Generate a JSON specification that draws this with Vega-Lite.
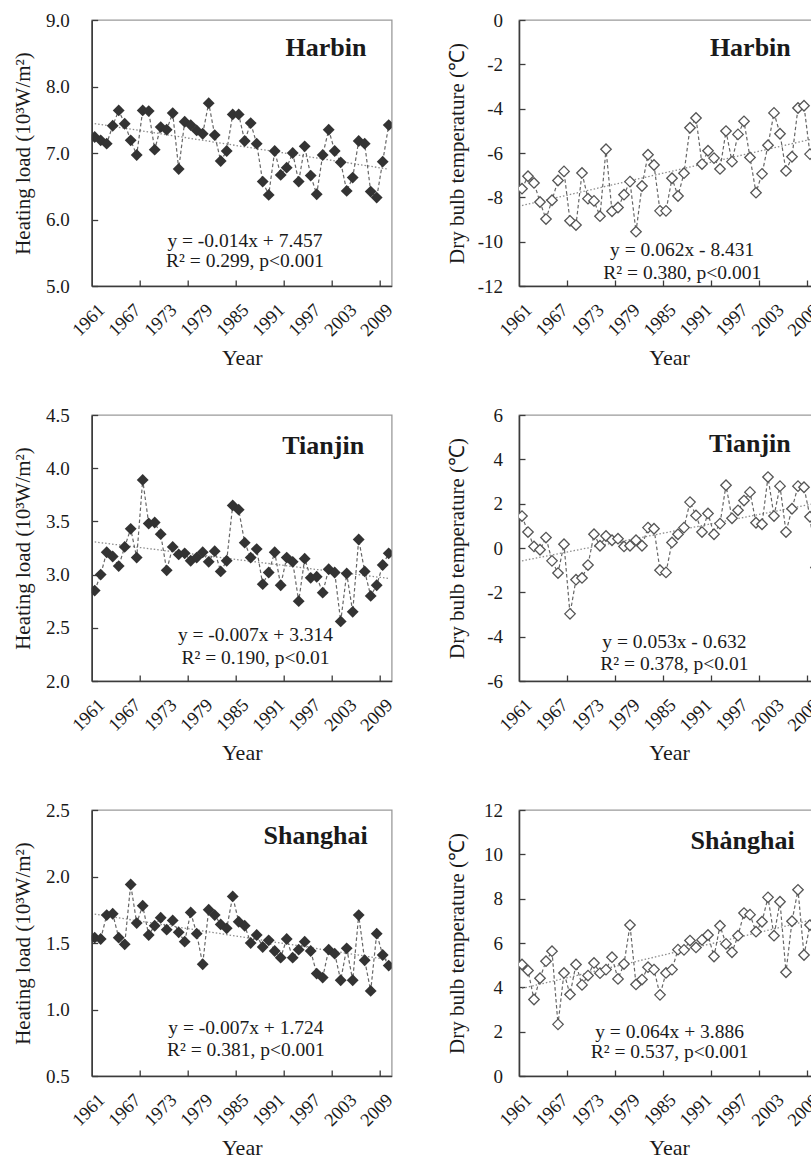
{
"$schema": "https://vega.github.io/schema/vega-lite/v6.json",
"autosize": {"type": "none"},
"padding": {"left": 91.7, "top": 20, "right": 719.3, "bottom": 1141},
"background": "white",
"columns": 2,
"spacing": {"row": 36, "column": 48.3},
"config": {
  "font": "Liberation Serif",
  "view": {"stroke": "#9a9a9a", "strokeWidth": 1.3},
  "axis": {"grid": false, "domainColor": "#3c3c3c", "domainWidth": 1.6, "tickColor": "#3c3c3c", "tickWidth": 1.3, "labelColor": "#1a1a1a", "titleColor": "#1a1a1a", "titleFontWeight": "normal", "labelFlush": false, "labelOverlap": false},
  "axisX": {"labelAngle": -45, "labelAlign": "right", "labelBaseline": "top", "labelPadding": 14, "labelFontSize": 18.5, "titleFontSize": 22, "titlePadding": 8, "ticks": false},
  "axisY": {"tickSize": -6, "labelPadding": 28.5, "labelFontSize": 19, "titleFontSize": 21}
},
"datasets": {
  "series": [
{"p":"HHL","year":1961,"v":7.24},{"p":"HHL","year":1962,"v":7.19},{"p":"HHL","year":1963,"v":7.14},{"p":"HHL","year":1964,"v":7.41},{"p":"HHL","year":1965,"v":7.64},{"p":"HHL","year":1966,"v":7.44},{"p":"HHL","year":1967,"v":7.19},{"p":"HHL","year":1968,"v":6.97},{"p":"HHL","year":1969,"v":7.64},{"p":"HHL","year":1970,"v":7.63},
{"p":"HHL","year":1971,"v":7.05},{"p":"HHL","year":1972,"v":7.39},{"p":"HHL","year":1973,"v":7.35},{"p":"HHL","year":1974,"v":7.60},{"p":"HHL","year":1975,"v":6.76},{"p":"HHL","year":1976,"v":7.47},{"p":"HHL","year":1977,"v":7.42},{"p":"HHL","year":1978,"v":7.34},{"p":"HHL","year":1979,"v":7.29},{"p":"HHL","year":1980,"v":7.75},
{"p":"HHL","year":1981,"v":7.27},{"p":"HHL","year":1982,"v":6.88},{"p":"HHL","year":1983,"v":7.03},{"p":"HHL","year":1984,"v":7.58},{"p":"HHL","year":1985,"v":7.58},{"p":"HHL","year":1986,"v":7.18},{"p":"HHL","year":1987,"v":7.45},{"p":"HHL","year":1988,"v":7.14},{"p":"HHL","year":1989,"v":6.57},{"p":"HHL","year":1990,"v":6.37},
{"p":"HHL","year":1991,"v":7.03},{"p":"HHL","year":1992,"v":6.67},{"p":"HHL","year":1993,"v":6.78},{"p":"HHL","year":1994,"v":7.00},{"p":"HHL","year":1995,"v":6.57},{"p":"HHL","year":1996,"v":7.10},{"p":"HHL","year":1997,"v":6.66},{"p":"HHL","year":1998,"v":6.38},{"p":"HHL","year":1999,"v":6.97},{"p":"HHL","year":2000,"v":7.35},
{"p":"HHL","year":2001,"v":7.03},{"p":"HHL","year":2002,"v":6.86},{"p":"HHL","year":2003,"v":6.43},{"p":"HHL","year":2004,"v":6.63},{"p":"HHL","year":2005,"v":7.18},{"p":"HHL","year":2006,"v":7.14},{"p":"HHL","year":2007,"v":6.42},{"p":"HHL","year":2008,"v":6.33},{"p":"HHL","year":2009,"v":6.87},{"p":"HHL","year":2010,"v":7.42},
{"p":"THL","year":1961,"v":2.85},{"p":"THL","year":1962,"v":3.00},{"p":"THL","year":1963,"v":3.21},{"p":"THL","year":1964,"v":3.17},{"p":"THL","year":1965,"v":3.08},{"p":"THL","year":1966,"v":3.26},{"p":"THL","year":1967,"v":3.43},{"p":"THL","year":1968,"v":3.16},{"p":"THL","year":1969,"v":3.89},{"p":"THL","year":1970,"v":3.48},
{"p":"THL","year":1971,"v":3.49},{"p":"THL","year":1972,"v":3.38},{"p":"THL","year":1973,"v":3.04},{"p":"THL","year":1974,"v":3.26},{"p":"THL","year":1975,"v":3.19},{"p":"THL","year":1976,"v":3.20},{"p":"THL","year":1977,"v":3.13},{"p":"THL","year":1978,"v":3.16},{"p":"THL","year":1979,"v":3.21},{"p":"THL","year":1980,"v":3.12},
{"p":"THL","year":1981,"v":3.22},{"p":"THL","year":1982,"v":3.03},{"p":"THL","year":1983,"v":3.13},{"p":"THL","year":1984,"v":3.65},{"p":"THL","year":1985,"v":3.61},{"p":"THL","year":1986,"v":3.30},{"p":"THL","year":1987,"v":3.16},{"p":"THL","year":1988,"v":3.24},{"p":"THL","year":1989,"v":2.91},{"p":"THL","year":1990,"v":3.02},
{"p":"THL","year":1991,"v":3.21},{"p":"THL","year":1992,"v":2.90},{"p":"THL","year":1993,"v":3.16},{"p":"THL","year":1994,"v":3.12},{"p":"THL","year":1995,"v":2.75},{"p":"THL","year":1996,"v":3.15},{"p":"THL","year":1997,"v":2.97},{"p":"THL","year":1998,"v":2.98},{"p":"THL","year":1999,"v":2.83},{"p":"THL","year":2000,"v":3.05},
{"p":"THL","year":2001,"v":3.02},{"p":"THL","year":2002,"v":2.56},{"p":"THL","year":2003,"v":3.01},{"p":"THL","year":2004,"v":2.65},{"p":"THL","year":2005,"v":3.33},{"p":"THL","year":2006,"v":3.03},{"p":"THL","year":2007,"v":2.80},{"p":"THL","year":2008,"v":2.90},{"p":"THL","year":2009,"v":3.09},{"p":"THL","year":2010,"v":3.20},
{"p":"SHL","year":1961,"v":1.54},{"p":"SHL","year":1962,"v":1.53},{"p":"SHL","year":1963,"v":1.71},{"p":"SHL","year":1964,"v":1.72},{"p":"SHL","year":1965,"v":1.54},{"p":"SHL","year":1966,"v":1.49},{"p":"SHL","year":1967,"v":1.94},{"p":"SHL","year":1968,"v":1.65},{"p":"SHL","year":1969,"v":1.78},{"p":"SHL","year":1970,"v":1.56},
{"p":"SHL","year":1971,"v":1.63},{"p":"SHL","year":1972,"v":1.69},{"p":"SHL","year":1973,"v":1.60},{"p":"SHL","year":1974,"v":1.67},{"p":"SHL","year":1975,"v":1.58},{"p":"SHL","year":1976,"v":1.51},{"p":"SHL","year":1977,"v":1.73},{"p":"SHL","year":1978,"v":1.57},{"p":"SHL","year":1979,"v":1.34},{"p":"SHL","year":1980,"v":1.75},
{"p":"SHL","year":1981,"v":1.71},{"p":"SHL","year":1982,"v":1.64},{"p":"SHL","year":1983,"v":1.61},{"p":"SHL","year":1984,"v":1.85},{"p":"SHL","year":1985,"v":1.66},{"p":"SHL","year":1986,"v":1.63},{"p":"SHL","year":1987,"v":1.50},{"p":"SHL","year":1988,"v":1.56},{"p":"SHL","year":1989,"v":1.47},{"p":"SHL","year":1990,"v":1.52},
{"p":"SHL","year":1991,"v":1.44},{"p":"SHL","year":1992,"v":1.39},{"p":"SHL","year":1993,"v":1.53},{"p":"SHL","year":1994,"v":1.39},{"p":"SHL","year":1995,"v":1.45},{"p":"SHL","year":1996,"v":1.51},{"p":"SHL","year":1997,"v":1.44},{"p":"SHL","year":1998,"v":1.27},{"p":"SHL","year":1999,"v":1.24},{"p":"SHL","year":2000,"v":1.45},
{"p":"SHL","year":2001,"v":1.42},{"p":"SHL","year":2002,"v":1.22},{"p":"SHL","year":2003,"v":1.46},{"p":"SHL","year":2004,"v":1.22},{"p":"SHL","year":2005,"v":1.71},{"p":"SHL","year":2006,"v":1.37},{"p":"SHL","year":2007,"v":1.14},{"p":"SHL","year":2008,"v":1.57},{"p":"SHL","year":2009,"v":1.41},{"p":"SHL","year":2010,"v":1.33},
{"p":"HTB","year":1961,"v":-7.61},{"p":"HTB","year":1962,"v":-7.05},{"p":"HTB","year":1963,"v":-7.35},{"p":"HTB","year":1964,"v":-8.21},{"p":"HTB","year":1965,"v":-8.98},{"p":"HTB","year":1966,"v":-8.13},{"p":"HTB","year":1967,"v":-7.24},{"p":"HTB","year":1968,"v":-6.83},{"p":"HTB","year":1969,"v":-9.06},{"p":"HTB","year":1970,"v":-9.25},
{"p":"HTB","year":1971,"v":-6.90},{"p":"HTB","year":1972,"v":-8.06},{"p":"HTB","year":1973,"v":-8.16},{"p":"HTB","year":1974,"v":-8.85},{"p":"HTB","year":1975,"v":-5.83},{"p":"HTB","year":1976,"v":-8.63},{"p":"HTB","year":1977,"v":-8.46},{"p":"HTB","year":1978,"v":-7.88},{"p":"HTB","year":1979,"v":-7.29},{"p":"HTB","year":1980,"v":-9.55},
{"p":"HTB","year":1981,"v":-7.49},{"p":"HTB","year":1982,"v":-6.08},{"p":"HTB","year":1983,"v":-6.54},{"p":"HTB","year":1984,"v":-8.61},{"p":"HTB","year":1985,"v":-8.61},{"p":"HTB","year":1986,"v":-7.14},{"p":"HTB","year":1987,"v":-7.94},{"p":"HTB","year":1988,"v":-6.91},{"p":"HTB","year":1989,"v":-4.86},{"p":"HTB","year":1990,"v":-4.42},
{"p":"HTB","year":1991,"v":-6.50},{"p":"HTB","year":1992,"v":-5.90},{"p":"HTB","year":1993,"v":-6.23},{"p":"HTB","year":1994,"v":-6.72},{"p":"HTB","year":1995,"v":-5.01},{"p":"HTB","year":1996,"v":-6.39},{"p":"HTB","year":1997,"v":-5.16},{"p":"HTB","year":1998,"v":-4.57},{"p":"HTB","year":1999,"v":-6.20},{"p":"HTB","year":2000,"v":-7.79},
{"p":"HTB","year":2001,"v":-6.94},{"p":"HTB","year":2002,"v":-5.65},{"p":"HTB","year":2003,"v":-4.19},{"p":"HTB","year":2004,"v":-5.13},{"p":"HTB","year":2005,"v":-6.81},{"p":"HTB","year":2006,"v":-6.17},{"p":"HTB","year":2007,"v":-3.97},{"p":"HTB","year":2008,"v":-3.87},{"p":"HTB","year":2009,"v":-6.05},
{"p":"TTB","year":1961,"v":1.44},{"p":"TTB","year":1962,"v":0.72},{"p":"TTB","year":1963,"v":0.07},{"p":"TTB","year":1964,"v":-0.08},{"p":"TTB","year":1965,"v":0.47},{"p":"TTB","year":1966,"v":-0.58},{"p":"TTB","year":1967,"v":-1.13},{"p":"TTB","year":1968,"v":0.17},{"p":"TTB","year":1969,"v":-2.97},{"p":"TTB","year":1970,"v":-1.43},
{"p":"TTB","year":1971,"v":-1.35},{"p":"TTB","year":1972,"v":-0.77},{"p":"TTB","year":1973,"v":0.62},{"p":"TTB","year":1974,"v":0.10},{"p":"TTB","year":1975,"v":0.54},{"p":"TTB","year":1976,"v":0.35},{"p":"TTB","year":1977,"v":0.42},{"p":"TTB","year":1978,"v":0.07},{"p":"TTB","year":1979,"v":0.10},{"p":"TTB","year":1980,"v":0.35},
{"p":"TTB","year":1981,"v":0.10},{"p":"TTB","year":1982,"v":0.92},{"p":"TTB","year":1983,"v":0.87},{"p":"TTB","year":1984,"v":-1.00},{"p":"TTB","year":1985,"v":-1.10},{"p":"TTB","year":1986,"v":0.25},{"p":"TTB","year":1987,"v":0.62},{"p":"TTB","year":1988,"v":0.92},{"p":"TTB","year":1989,"v":2.07},{"p":"TTB","year":1990,"v":1.47},
{"p":"TTB","year":1991,"v":0.72},{"p":"TTB","year":1992,"v":1.56},{"p":"TTB","year":1993,"v":0.62},{"p":"TTB","year":1994,"v":1.10},{"p":"TTB","year":1995,"v":2.83},{"p":"TTB","year":1996,"v":1.34},{"p":"TTB","year":1997,"v":1.70},{"p":"TTB","year":1998,"v":2.14},{"p":"TTB","year":1999,"v":2.52},{"p":"TTB","year":2000,"v":1.14},
{"p":"TTB","year":2001,"v":1.07},{"p":"TTB","year":2002,"v":3.20},{"p":"TTB","year":2003,"v":1.44},{"p":"TTB","year":2004,"v":2.79},{"p":"TTB","year":2005,"v":0.72},{"p":"TTB","year":2006,"v":1.77},{"p":"TTB","year":2007,"v":2.79},{"p":"TTB","year":2008,"v":2.74},{"p":"TTB","year":2009,"v":1.41},{"p":"TTB","year":2010,"v":-0.88},
{"p":"STB","year":1961,"v":5.03},{"p":"STB","year":1962,"v":4.76},{"p":"STB","year":1963,"v":3.45},{"p":"STB","year":1964,"v":4.41},{"p":"STB","year":1965,"v":5.18},{"p":"STB","year":1966,"v":5.63},{"p":"STB","year":1967,"v":2.33},{"p":"STB","year":1968,"v":4.65},{"p":"STB","year":1969,"v":3.68},{"p":"STB","year":1970,"v":5.03},
{"p":"STB","year":1971,"v":4.11},{"p":"STB","year":1972,"v":4.53},{"p":"STB","year":1973,"v":5.10},{"p":"STB","year":1974,"v":4.64},{"p":"STB","year":1975,"v":4.80},{"p":"STB","year":1976,"v":5.36},{"p":"STB","year":1977,"v":4.38},{"p":"STB","year":1978,"v":5.05},{"p":"STB","year":1979,"v":6.81},{"p":"STB","year":1980,"v":4.13},
{"p":"STB","year":1981,"v":4.35},{"p":"STB","year":1982,"v":4.91},{"p":"STB","year":1983,"v":4.80},{"p":"STB","year":1984,"v":3.66},{"p":"STB","year":1985,"v":4.65},{"p":"STB","year":1986,"v":4.80},{"p":"STB","year":1987,"v":5.70},{"p":"STB","year":1988,"v":5.69},{"p":"STB","year":1989,"v":6.11},{"p":"STB","year":1990,"v":5.80},
{"p":"STB","year":1991,"v":6.14},{"p":"STB","year":1992,"v":6.36},{"p":"STB","year":1993,"v":5.39},{"p":"STB","year":1994,"v":6.78},{"p":"STB","year":1995,"v":5.96},{"p":"STB","year":1996,"v":5.58},{"p":"STB","year":1997,"v":6.33},{"p":"STB","year":1998,"v":7.35},{"p":"STB","year":1999,"v":7.28},{"p":"STB","year":2000,"v":6.51},
{"p":"STB","year":2001,"v":6.96},{"p":"STB","year":2002,"v":8.06},{"p":"STB","year":2003,"v":6.33},{"p":"STB","year":2004,"v":7.86},{"p":"STB","year":2005,"v":4.68},{"p":"STB","year":2006,"v":6.98},{"p":"STB","year":2007,"v":8.40},{"p":"STB","year":2008,"v":5.46},{"p":"STB","year":2009,"v":6.81},{"p":"STB","year":2010,"v":7.00}
  ],
  "trend": [
{"p":"HHL","year":1961,"v":7.443},{"p":"HHL","year":2010,"v":6.757},
{"p":"THL","year":1961,"v":3.307},{"p":"THL","year":2010,"v":2.964},
{"p":"SHL","year":1961,"v":1.717},{"p":"SHL","year":2010,"v":1.374},
{"p":"HTB","year":1961,"v":-8.369},{"p":"HTB","year":2010,"v":-5.331},
{"p":"TTB","year":1961,"v":-0.579},{"p":"TTB","year":2010,"v":2.018},
{"p":"STB","year":1961,"v":3.950},{"p":"STB","year":2010,"v":7.086}
  ],
  "notes": [
{"p":"HHL","city":"Harbin","eq":"y = -0.014x + 7.457","r2":"R² = 0.299, p<0.001"},
{"p":"THL","city":"Tianjin","eq":"y = -0.007x + 3.314","r2":"R² = 0.190, p<0.01"},
{"p":"SHL","city":"Shanghai","eq":"y = -0.007x + 1.724","r2":"R² = 0.381, p<0.001"},
{"p":"HTB","city":"Harbin","eq":"y = 0.062x - 8.431","r2":"R² = 0.380, p<0.001"},
{"p":"TTB","city":"Tianjin","eq":"y = 0.053x - 0.632","r2":"R² = 0.378, p<0.01"},
{"p":"STB","city":"Shȧnghai","eq":"y = 0.064x + 3.886","r2":"R² = 0.537, p<0.001"}
  ]
},
"concat": [
{
  "width": 300, "height": 266,
  "resolve": {"axis": {"x": "independent"}},
  "layer": [
    {"data": {"name": "trend"}, "transform": [{"filter": "datum.p === 'HHL'"}],
     "mark": {"type": "line", "color": "#8c8c8c", "strokeWidth": 1.3, "strokeDash": [1.5, 2], "clip": true},
     "encoding": {
       "x": {"field": "year", "type": "quantitative", "scale": {"domain": [1960.5, 2010.5], "nice": false, "zero": false},
             "axis": {"orient": "bottom", "values": [1968.5, 1976.5, 1984.5, 1992.5, 2000.5, 2008.5], "labels": false, "domain": false, "ticks": true, "tickSize": -6, "title": null}},
       "y": {"field": "v", "type": "quantitative", "scale": {"domain": [5, 9], "nice": false, "zero": false},
             "axis": {"values": [5, 6, 7, 8, 9], "format": ".1f", "title": "Heating load (10³W/m²)", "minExtent": 47, "maxExtent": 47, "titlePadding": 11.4}}
     }},
    {"data": {"name": "series"}, "transform": [{"filter": "datum.p === 'HHL'"}],
     "mark": {"type": "line", "color": "#666666", "strokeWidth": 1.2, "strokeDash": [3.5, 2.5], "clip": true},
     "encoding": {
       "x": {"field": "year", "type": "quantitative", "axis": {"orient": "bottom", "values": [1961, 1967, 1973, 1979, 1985, 1991, 1997, 2003, 2009], "format": "d", "title": "Year"}},
       "y": {"field": "v", "type": "quantitative"}
     }},
    {"data": {"name": "series"}, "transform": [{"filter": "datum.p === 'HHL'"}],
     "mark": {"type": "point", "shape": "diamond", "filled": true, "size": 140, "color": "#333333", "opacity": 1, "clip": true},
     "encoding": {"x": {"field": "year", "type": "quantitative", "axis": null}, "y": {"field": "v", "type": "quantitative"}}},
    {"data": {"name": "notes"}, "transform": [{"filter": "datum.p === 'HHL'"}],
     "mark": {"type": "text", "align": "right", "baseline": "alphabetic", "fontSize": 26, "fontWeight": "bold", "color": "#1a1a1a"},
     "encoding": {"x": {"datum": 2006.3, "type": "quantitative", "axis": null}, "y": {"datum": 8.46, "type": "quantitative"}, "text": {"field": "city"}}},
    {"data": {"name": "notes"}, "transform": [{"filter": "datum.p === 'HHL'"}],
     "mark": {"type": "text", "align": "center", "baseline": "alphabetic", "fontSize": 19.5, "color": "#1a1a1a"},
     "encoding": {"x": {"datum": 1986.05, "type": "quantitative", "axis": null}, "y": {"datum": 5.58, "type": "quantitative"}, "text": {"field": "eq"}}},
    {"data": {"name": "notes"}, "transform": [{"filter": "datum.p === 'HHL'"}],
     "mark": {"type": "text", "align": "center", "baseline": "alphabetic", "fontSize": 19.5, "color": "#1a1a1a"},
     "encoding": {"x": {"datum": 1986.05, "type": "quantitative", "axis": null}, "y": {"datum": 5.29, "type": "quantitative"}, "text": {"field": "r2"}}}
  ]
},
{
  "width": 300, "height": 266,
  "resolve": {"axis": {"x": "independent"}},
  "layer": [
    {"data": {"name": "trend"}, "transform": [{"filter": "datum.p === 'HTB'"}],
     "mark": {"type": "line", "color": "#8c8c8c", "strokeWidth": 1.3, "strokeDash": [1.5, 2], "clip": true},
     "encoding": {
       "x": {"field": "year", "type": "quantitative", "scale": {"domain": [1960.5, 2010.5], "nice": false, "zero": false},
             "axis": {"orient": "bottom", "values": [1968.5, 1976.5, 1984.5, 1992.5, 2000.5, 2008.5], "labels": false, "domain": false, "ticks": true, "tickSize": -6, "title": null}},
       "y": {"field": "v", "type": "quantitative", "scale": {"domain": [-12, 0], "nice": false, "zero": false},
             "axis": {"values": [-12, -10, -8, -6, -4, -2, 0], "labelExpr": "datum.value + ''", "title": "Dry bulb temperature (℃)", "minExtent": 42, "maxExtent": 42, "labelPadding": 22.5, "titlePadding": 10}}
     }},
    {"data": {"name": "series"}, "transform": [{"filter": "datum.p === 'HTB'"}],
     "mark": {"type": "line", "color": "#666666", "strokeWidth": 1.2, "strokeDash": [3.5, 2.5], "clip": true},
     "encoding": {
       "x": {"field": "year", "type": "quantitative", "axis": {"orient": "bottom", "values": [1961, 1967, 1973, 1979, 1985, 1991, 1997, 2003, 2009], "format": "d", "title": "Year"}},
       "y": {"field": "v", "type": "quantitative"}
     }},
    {"data": {"name": "series"}, "transform": [{"filter": "datum.p === 'HTB'"}],
     "mark": {"type": "point", "shape": "diamond", "fill": "white", "stroke": "#555555", "strokeWidth": 1.3, "size": 110, "opacity": 1, "fillOpacity": 1, "clip": true},
     "encoding": {"x": {"field": "year", "type": "quantitative", "axis": null}, "y": {"field": "v", "type": "quantitative"}}},
    {"data": {"name": "notes"}, "transform": [{"filter": "datum.p === 'HTB'"}],
     "mark": {"type": "text", "align": "right", "baseline": "alphabetic", "fontSize": 26, "fontWeight": "bold", "color": "#1a1a1a"},
     "encoding": {"x": {"datum": 2005.8, "type": "quantitative", "axis": null}, "y": {"datum": -1.61, "type": "quantitative"}, "text": {"field": "city"}}},
    {"data": {"name": "notes"}, "transform": [{"filter": "datum.p === 'HTB'"}],
     "mark": {"type": "text", "align": "center", "baseline": "alphabetic", "fontSize": 19.5, "color": "#1a1a1a"},
     "encoding": {"x": {"datum": 1987.7, "type": "quantitative", "axis": null}, "y": {"datum": -10.63, "type": "quantitative"}, "text": {"field": "eq"}}},
    {"data": {"name": "notes"}, "transform": [{"filter": "datum.p === 'HTB'"}],
     "mark": {"type": "text", "align": "center", "baseline": "alphabetic", "fontSize": 19.5, "color": "#1a1a1a"},
     "encoding": {"x": {"datum": 1987.7, "type": "quantitative", "axis": null}, "y": {"datum": -11.68, "type": "quantitative"}, "text": {"field": "r2"}}}
  ]
},
{
  "width": 300, "height": 266,
  "resolve": {"axis": {"x": "independent"}},
  "layer": [
    {"data": {"name": "trend"}, "transform": [{"filter": "datum.p === 'THL'"}],
     "mark": {"type": "line", "color": "#8c8c8c", "strokeWidth": 1.3, "strokeDash": [1.5, 2], "clip": true},
     "encoding": {
       "x": {"field": "year", "type": "quantitative", "scale": {"domain": [1960.5, 2010.5], "nice": false, "zero": false},
             "axis": {"orient": "bottom", "values": [1968.5, 1976.5, 1984.5, 1992.5, 2000.5, 2008.5], "labels": false, "domain": false, "ticks": true, "tickSize": -6, "title": null}},
       "y": {"field": "v", "type": "quantitative", "scale": {"domain": [2, 4.5], "nice": false, "zero": false},
             "axis": {"values": [2, 2.5, 3, 3.5, 4, 4.5], "format": ".1f", "title": "Heating load (10³W/m²)", "minExtent": 47, "maxExtent": 47, "titlePadding": 11.4}}
     }},
    {"data": {"name": "series"}, "transform": [{"filter": "datum.p === 'THL'"}],
     "mark": {"type": "line", "color": "#666666", "strokeWidth": 1.2, "strokeDash": [3.5, 2.5], "clip": true},
     "encoding": {
       "x": {"field": "year", "type": "quantitative", "axis": {"orient": "bottom", "values": [1961, 1967, 1973, 1979, 1985, 1991, 1997, 2003, 2009], "format": "d", "title": "Year"}},
       "y": {"field": "v", "type": "quantitative"}
     }},
    {"data": {"name": "series"}, "transform": [{"filter": "datum.p === 'THL'"}],
     "mark": {"type": "point", "shape": "diamond", "filled": true, "size": 140, "color": "#333333", "opacity": 1, "clip": true},
     "encoding": {"x": {"field": "year", "type": "quantitative", "axis": null}, "y": {"field": "v", "type": "quantitative"}}},
    {"data": {"name": "notes"}, "transform": [{"filter": "datum.p === 'THL'"}],
     "mark": {"type": "text", "align": "right", "baseline": "alphabetic", "fontSize": 26, "fontWeight": "bold", "color": "#1a1a1a"},
     "encoding": {"x": {"datum": 2005.9, "type": "quantitative", "axis": null}, "y": {"datum": 4.136, "type": "quantitative"}, "text": {"field": "city"}}},
    {"data": {"name": "notes"}, "transform": [{"filter": "datum.p === 'THL'"}],
     "mark": {"type": "text", "align": "center", "baseline": "alphabetic", "fontSize": 19.5, "color": "#1a1a1a"},
     "encoding": {"x": {"datum": 1987.8, "type": "quantitative", "axis": null}, "y": {"datum": 2.376, "type": "quantitative"}, "text": {"field": "eq"}}},
    {"data": {"name": "notes"}, "transform": [{"filter": "datum.p === 'THL'"}],
     "mark": {"type": "text", "align": "center", "baseline": "alphabetic", "fontSize": 19.5, "color": "#1a1a1a"},
     "encoding": {"x": {"datum": 1987.8, "type": "quantitative", "axis": null}, "y": {"datum": 2.163, "type": "quantitative"}, "text": {"field": "r2"}}}
  ]
},
{
  "width": 300, "height": 266,
  "resolve": {"axis": {"x": "independent"}},
  "layer": [
    {"data": {"name": "trend"}, "transform": [{"filter": "datum.p === 'TTB'"}],
     "mark": {"type": "line", "color": "#8c8c8c", "strokeWidth": 1.3, "strokeDash": [1.5, 2], "clip": true},
     "encoding": {
       "x": {"field": "year", "type": "quantitative", "scale": {"domain": [1960.5, 2010.5], "nice": false, "zero": false},
             "axis": {"orient": "bottom", "values": [1968.5, 1976.5, 1984.5, 1992.5, 2000.5, 2008.5], "labels": false, "domain": false, "ticks": true, "tickSize": -6, "title": null}},
       "y": {"field": "v", "type": "quantitative", "scale": {"domain": [-6, 6], "nice": false, "zero": false},
             "axis": {"values": [-6, -4, -2, 0, 2, 4, 6], "labelExpr": "datum.value + ''", "title": "Dry bulb temperature (℃)", "minExtent": 42, "maxExtent": 42, "labelPadding": 22.5, "titlePadding": 10}}
     }},
    {"data": {"name": "series"}, "transform": [{"filter": "datum.p === 'TTB'"}],
     "mark": {"type": "line", "color": "#666666", "strokeWidth": 1.2, "strokeDash": [3.5, 2.5], "clip": true},
     "encoding": {
       "x": {"field": "year", "type": "quantitative", "axis": {"orient": "bottom", "values": [1961, 1967, 1973, 1979, 1985, 1991, 1997, 2003, 2009], "format": "d", "title": "Year"}},
       "y": {"field": "v", "type": "quantitative"}
     }},
    {"data": {"name": "series"}, "transform": [{"filter": "datum.p === 'TTB'"}],
     "mark": {"type": "point", "shape": "diamond", "fill": "white", "stroke": "#555555", "strokeWidth": 1.3, "size": 110, "opacity": 1, "fillOpacity": 1, "clip": true},
     "encoding": {"x": {"field": "year", "type": "quantitative", "axis": null}, "y": {"field": "v", "type": "quantitative"}}},
    {"data": {"name": "notes"}, "transform": [{"filter": "datum.p === 'TTB'"}],
     "mark": {"type": "text", "align": "right", "baseline": "alphabetic", "fontSize": 26, "fontWeight": "bold", "color": "#1a1a1a"},
     "encoding": {"x": {"datum": 2005.8, "type": "quantitative", "axis": null}, "y": {"datum": 4.345, "type": "quantitative"}, "text": {"field": "city"}}},
    {"data": {"name": "notes"}, "transform": [{"filter": "datum.p === 'TTB'"}],
     "mark": {"type": "text", "align": "center", "baseline": "alphabetic", "fontSize": 19.5, "color": "#1a1a1a"},
     "encoding": {"x": {"datum": 1986.4, "type": "quantitative", "axis": null}, "y": {"datum": -4.53, "type": "quantitative"}, "text": {"field": "eq"}}},
    {"data": {"name": "notes"}, "transform": [{"filter": "datum.p === 'TTB'"}],
     "mark": {"type": "text", "align": "center", "baseline": "alphabetic", "fontSize": 19.5, "color": "#1a1a1a"},
     "encoding": {"x": {"datum": 1986.4, "type": "quantitative", "axis": null}, "y": {"datum": -5.5, "type": "quantitative"}, "text": {"field": "r2"}}}
  ]
},
{
  "width": 300, "height": 266,
  "resolve": {"axis": {"x": "independent"}},
  "layer": [
    {"data": {"name": "trend"}, "transform": [{"filter": "datum.p === 'SHL'"}],
     "mark": {"type": "line", "color": "#8c8c8c", "strokeWidth": 1.3, "strokeDash": [1.5, 2], "clip": true},
     "encoding": {
       "x": {"field": "year", "type": "quantitative", "scale": {"domain": [1960.5, 2010.5], "nice": false, "zero": false},
             "axis": {"orient": "bottom", "values": [1968.5, 1976.5, 1984.5, 1992.5, 2000.5, 2008.5], "labels": false, "domain": false, "ticks": true, "tickSize": -6, "title": null}},
       "y": {"field": "v", "type": "quantitative", "scale": {"domain": [0.5, 2.5], "nice": false, "zero": false},
             "axis": {"values": [0.5, 1, 1.5, 2, 2.5], "format": ".1f", "title": "Heating load (10³W/m²)", "minExtent": 47, "maxExtent": 47, "titlePadding": 11.4}}
     }},
    {"data": {"name": "series"}, "transform": [{"filter": "datum.p === 'SHL'"}],
     "mark": {"type": "line", "color": "#666666", "strokeWidth": 1.2, "strokeDash": [3.5, 2.5], "clip": true},
     "encoding": {
       "x": {"field": "year", "type": "quantitative", "axis": {"orient": "bottom", "values": [1961, 1967, 1973, 1979, 1985, 1991, 1997, 2003, 2009], "format": "d", "title": "Year"}},
       "y": {"field": "v", "type": "quantitative"}
     }},
    {"data": {"name": "series"}, "transform": [{"filter": "datum.p === 'SHL'"}],
     "mark": {"type": "point", "shape": "diamond", "filled": true, "size": 140, "color": "#333333", "opacity": 1, "clip": true},
     "encoding": {"x": {"field": "year", "type": "quantitative", "axis": null}, "y": {"field": "v", "type": "quantitative"}}},
    {"data": {"name": "notes"}, "transform": [{"filter": "datum.p === 'SHL'"}],
     "mark": {"type": "text", "align": "right", "baseline": "alphabetic", "fontSize": 26, "fontWeight": "bold", "color": "#1a1a1a"},
     "encoding": {"x": {"datum": 2006.5, "type": "quantitative", "axis": null}, "y": {"datum": 2.241, "type": "quantitative"}, "text": {"field": "city"}}},
    {"data": {"name": "notes"}, "transform": [{"filter": "datum.p === 'SHL'"}],
     "mark": {"type": "text", "align": "center", "baseline": "alphabetic", "fontSize": 19.5, "color": "#1a1a1a"},
     "encoding": {"x": {"datum": 1986.2, "type": "quantitative", "axis": null}, "y": {"datum": 0.813, "type": "quantitative"}, "text": {"field": "eq"}}},
    {"data": {"name": "notes"}, "transform": [{"filter": "datum.p === 'SHL'"}],
     "mark": {"type": "text", "align": "center", "baseline": "alphabetic", "fontSize": 19.5, "color": "#1a1a1a"},
     "encoding": {"x": {"datum": 1986.2, "type": "quantitative", "axis": null}, "y": {"datum": 0.65, "type": "quantitative"}, "text": {"field": "r2"}}}
  ]
},
{
  "width": 300, "height": 266,
  "resolve": {"axis": {"x": "independent"}},
  "layer": [
    {"data": {"name": "trend"}, "transform": [{"filter": "datum.p === 'STB'"}],
     "mark": {"type": "line", "color": "#8c8c8c", "strokeWidth": 1.3, "strokeDash": [1.5, 2], "clip": true},
     "encoding": {
       "x": {"field": "year", "type": "quantitative", "scale": {"domain": [1960.5, 2010.5], "nice": false, "zero": false},
             "axis": {"orient": "bottom", "values": [1968.5, 1976.5, 1984.5, 1992.5, 2000.5, 2008.5], "labels": false, "domain": false, "ticks": true, "tickSize": -6, "title": null}},
       "y": {"field": "v", "type": "quantitative", "scale": {"domain": [0, 12], "nice": false, "zero": false},
             "axis": {"values": [0, 2, 4, 6, 8, 10, 12], "labelExpr": "datum.value + ''", "title": "Dry bulb temperature (℃)", "minExtent": 42, "maxExtent": 42, "labelPadding": 22.5, "titlePadding": 10}}
     }},
    {"data": {"name": "series"}, "transform": [{"filter": "datum.p === 'STB'"}],
     "mark": {"type": "line", "color": "#666666", "strokeWidth": 1.2, "strokeDash": [3.5, 2.5], "clip": true},
     "encoding": {
       "x": {"field": "year", "type": "quantitative", "axis": {"orient": "bottom", "values": [1961, 1967, 1973, 1979, 1985, 1991, 1997, 2003, 2009], "format": "d", "title": "Year"}},
       "y": {"field": "v", "type": "quantitative"}
     }},
    {"data": {"name": "series"}, "transform": [{"filter": "datum.p === 'STB'"}],
     "mark": {"type": "point", "shape": "diamond", "fill": "white", "stroke": "#555555", "strokeWidth": 1.3, "size": 110, "opacity": 1, "fillOpacity": 1, "clip": true},
     "encoding": {"x": {"field": "year", "type": "quantitative", "axis": null}, "y": {"field": "v", "type": "quantitative"}}},
    {"data": {"name": "notes"}, "transform": [{"filter": "datum.p === 'STB'"}],
     "mark": {"type": "text", "align": "right", "baseline": "alphabetic", "fontSize": 26, "fontWeight": "bold", "color": "#1a1a1a"},
     "encoding": {"x": {"datum": 2006.45, "type": "quantitative", "axis": null}, "y": {"datum": 10.23, "type": "quantitative"}, "text": {"field": "city"}}},
    {"data": {"name": "notes"}, "transform": [{"filter": "datum.p === 'STB'"}],
     "mark": {"type": "text", "align": "center", "baseline": "alphabetic", "fontSize": 19.5, "color": "#1a1a1a"},
     "encoding": {"x": {"datum": 1985.6, "type": "quantitative", "axis": null}, "y": {"datum": 1.73, "type": "quantitative"}, "text": {"field": "eq"}}},
    {"data": {"name": "notes"}, "transform": [{"filter": "datum.p === 'STB'"}],
     "mark": {"type": "text", "align": "center", "baseline": "alphabetic", "fontSize": 19.5, "color": "#1a1a1a"},
     "encoding": {"x": {"datum": 1985.6, "type": "quantitative", "axis": null}, "y": {"datum": 0.83, "type": "quantitative"}, "text": {"field": "r2"}}}
  ]
}
]
}
